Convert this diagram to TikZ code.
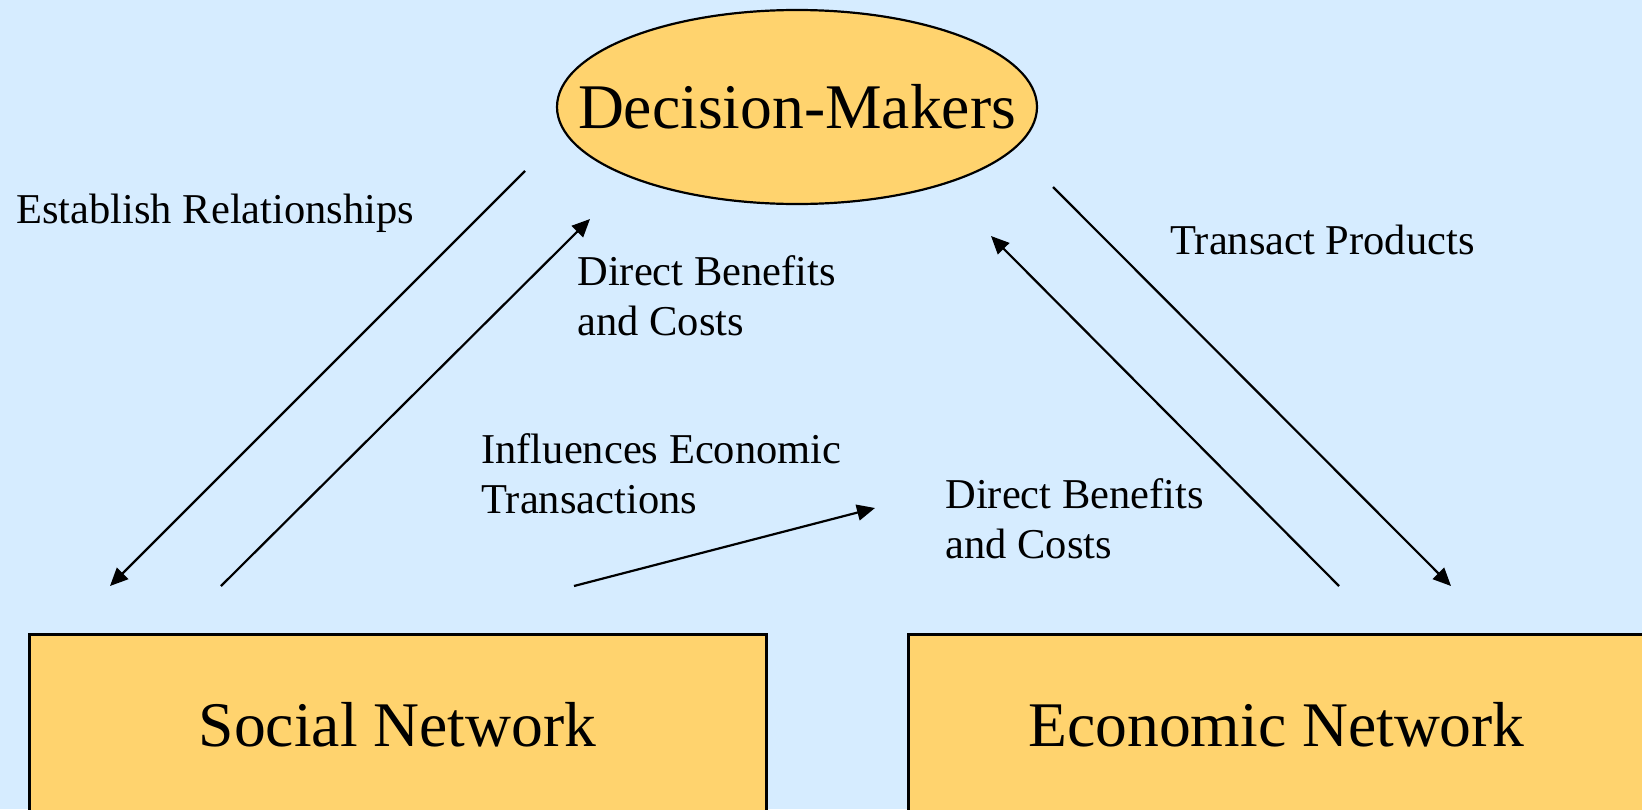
\documentclass[tikz,border=0pt]{standalone}
\usepackage{fontspec}
\setmainfont{Liberation Serif}
\usetikzlibrary{shapes.geometric,arrows.meta}
\definecolor{bgblue}{RGB}{214,236,255}
\definecolor{boxyellow}{RGB}{255,211,110}
\begin{document}
\begin{tikzpicture}[x=0.5pt,y=-0.5pt,
  arr/.style={line width=1.1pt,-{Triangle[length=9pt,width=8pt]}},
  lbl/.style={font=\fontsize{21.25}{25}\selectfont,anchor=base west,inner sep=0pt,align=left},
  big/.style={font=\fontsize{31.8}{36}\selectfont},
  netbox/.style={draw,fill=boxyellow,line width=1.5pt,minimum width=368.5pt,minimum height=91pt,inner sep=0pt,big}
]
\useasboundingbox (0,0) rectangle (1642,809);
\clip (0,0) rectangle (1642,809);
\fill[bgblue] (0,0) rectangle (1642,809);
\node[ellipse,draw,fill=boxyellow,line width=1.1pt,minimum width=240pt,minimum height=97pt,inner sep=0pt,
  label={[big,inner sep=0pt]center:Decision-Makers}] (dm) at (797,107) {};
\node[netbox] (sn) at (397.5,725) {Social Network};
\node[netbox] (en) at (1276.5,725) {Economic Network};
\coordinate (a1s) at (525,171); \coordinate (a1e) at (110,586);
\coordinate (a2s) at (221,586); \coordinate (a2e) at (590,219);
\coordinate (a3s) at (574,586); \coordinate (a3e) at (875,508);
\coordinate (a4s) at (1339,586); \coordinate (a4e) at (991,236);
\coordinate (a5s) at (1053,187); \coordinate (a5e) at (1451,586);
\draw[arr] (a1s) -- (a1e);
\draw[arr] (a2s) -- (a2e);
\draw[arr] (a3s) -- (a3e);
\draw[arr] (a4s) -- (a4e);
\draw[arr] (a5s) -- (a5e);
\node[lbl] (l1) at (16,223) {Establish Relationships};
\node[lbl] (l2) at (577,335) {Direct Benefits\\and Costs};
\node[lbl] (l3) at (1170,254) {Transact Products};
\node[lbl] (l4) at (481,513) {Influences Economic\\Transactions};
\node[lbl] (l5) at (945,558) {Direct Benefits\\and Costs};
\end{tikzpicture}
\end{document}
